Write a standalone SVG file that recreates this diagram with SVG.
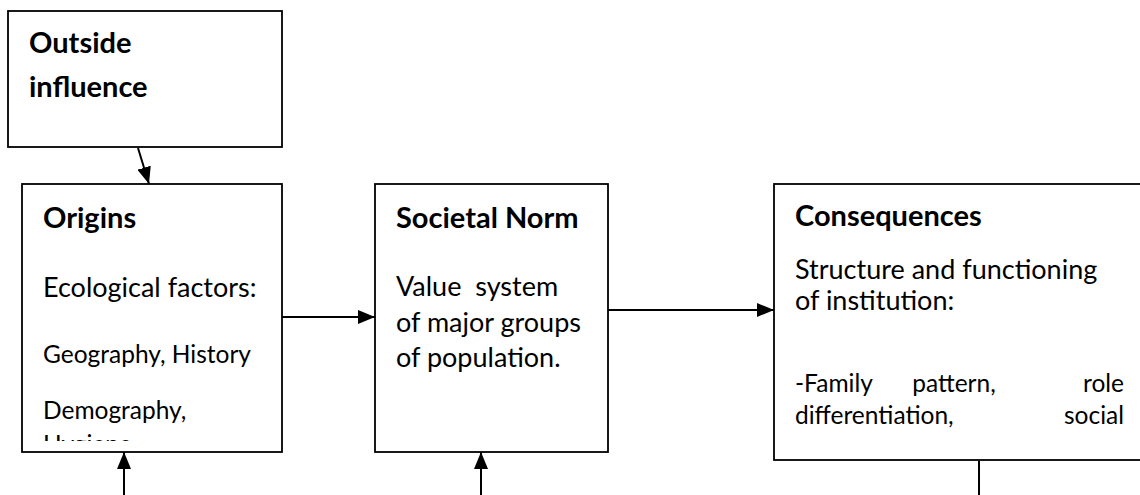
<svg xmlns="http://www.w3.org/2000/svg" width="1140" height="495" viewBox="0 0 1140 495">
  <style>
    .box { fill: #fff; stroke: #000; stroke-width: 1.8; }
    .title { font-family: Lato, "Liberation Sans", sans-serif; font-weight: bold; font-size: 29px; fill: #000; }
    .body { font-family: Lato, "Liberation Sans", sans-serif; font-size: 27px; fill: #000; }
    .small { font-family: Lato, "Liberation Sans", sans-serif; font-size: 24.5px; fill: #000; }
    .wire { stroke: #000; stroke-width: 2; fill: none; }
  </style>
  <defs>
    <marker id="arrow" markerWidth="17" markerHeight="14" refX="17" refY="7" orient="auto" markerUnits="userSpaceOnUse" viewBox="0 0 17 14">
      <path d="M0,0 L17,7 L0,14 z" fill="#000"/>
    </marker>
    <clipPath id="origins-clip">
      <rect x="22" y="184" width="260" height="257"/>
    </clipPath>
  </defs>
  <rect width="1140" height="495" fill="#fff"/>

  <g id="outside-influence">
    <rect class="box" x="8" y="11" width="274" height="136"/>
    <text class="title" x="29" y="53">Outside</text>
    <text class="title" x="29" y="97">influence</text>
  </g>

  <g id="origins">
    <rect class="box" x="22" y="184" width="260" height="268"/>
    <g clip-path="url(#origins-clip)">
      <text class="title" x="43" y="228">Origins</text>
      <text class="body" x="43" y="297">Ecological factors:</text>
      <text class="small" x="43" y="363">Geography, History</text>
      <text class="small" x="43" y="419">Demography,</text>
      <text class="small" x="43" y="453">Hygiene</text>
    </g>
  </g>

  <g id="societal-norm">
    <rect class="box" x="375" y="184" width="233" height="268"/>
    <text class="title" x="396" y="228">Societal Norm</text>
    <text class="body" x="396" y="296" xml:space="preserve">Value  system</text>
    <text class="body" x="396" y="332">of major groups</text>
    <text class="body" x="396" y="367">of population.</text>
  </g>

  <g id="consequences">
    <rect class="box" x="774" y="184" width="370" height="276"/>
    <text class="title" x="795" y="226">Consequences</text>
    <text class="body" x="795" y="279">Structure and functioning</text>
    <text class="body" x="795" y="310">of institution:</text>
    <text class="small" x="795" y="392">-Family</text>
    <text class="small" x="954" y="392" text-anchor="middle">pattern,</text>
    <text class="small" x="1124" y="392" text-anchor="end">role</text>
    <text class="small" x="795" y="424">differentiation,</text>
    <text class="small" x="1124" y="424" text-anchor="end">social</text>
  </g>

  <g id="connectors">
    <line class="wire" x1="138" y1="148" x2="149" y2="184" marker-end="url(#arrow)"/>
    <line class="wire" x1="282" y1="317" x2="375" y2="317" marker-end="url(#arrow)"/>
    <line class="wire" x1="608" y1="310" x2="774" y2="310" marker-end="url(#arrow)"/>
    <line class="wire" x1="124" y1="495" x2="124" y2="452" marker-end="url(#arrow)"/>
    <line class="wire" x1="481" y1="495" x2="481" y2="452" marker-end="url(#arrow)"/>
    <line class="wire" x1="979" y1="461" x2="979" y2="495"/>
  </g>
</svg>
